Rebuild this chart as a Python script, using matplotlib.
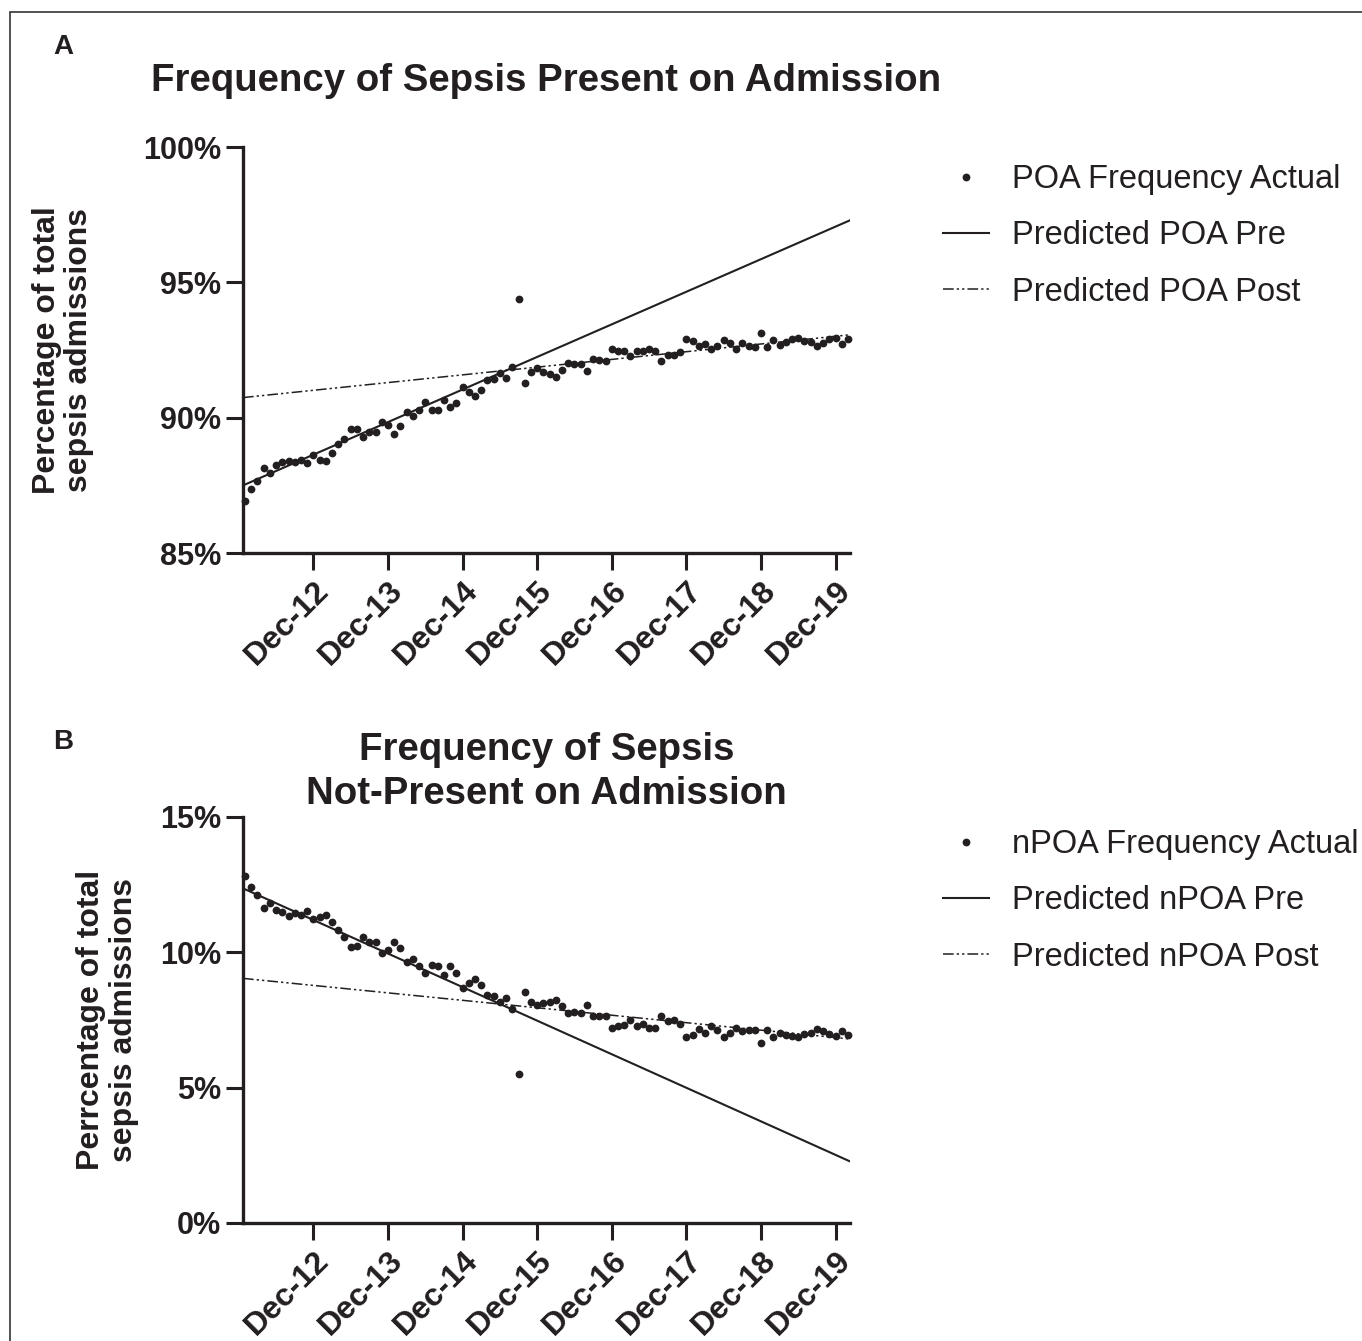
import numpy as np
import matplotlib
matplotlib.use("Agg")
import matplotlib.pyplot as plt
from matplotlib.patches import Rectangle
from matplotlib.lines import Line2D

# monthly series, Jan-2012 .. Feb-2020 (98 months)
poa_pct = [
    86.91, 87.37, 87.67, 88.13, 87.97, 88.24, 88.35, 88.41, 88.35, 88.42, 88.33, 88.62,
    88.45, 88.40, 88.70, 89.03, 89.22, 89.59, 89.58, 89.29, 89.46, 89.46, 89.83, 89.73,
    89.41, 89.68, 90.20, 90.07, 90.30, 90.58, 90.27, 90.27, 90.64, 90.38, 90.56, 91.13,
    90.95, 90.79, 91.01, 91.40, 91.43, 91.65, 91.46, 91.89, 94.38, 91.28, 91.69, 91.83,
    91.70, 91.61, 91.52, 91.76, 92.02, 91.99, 91.97, 91.71, 92.17, 92.12, 92.08, 92.55,
    92.45, 92.47, 92.29, 92.45, 92.48, 92.53, 92.48, 92.10, 92.32, 92.32, 92.41, 92.92,
    92.85, 92.63, 92.72, 92.53, 92.66, 92.88, 92.76, 92.53, 92.76, 92.63, 92.60, 93.12,
    92.61, 92.88, 92.69, 92.80, 92.90, 92.93, 92.85, 92.80, 92.63, 92.76, 92.90, 92.96,
    92.73, 92.90,
]
npoa_pct = [
    12.81, 12.41, 12.13, 11.65, 11.83, 11.58, 11.49, 11.36, 11.46, 11.39, 11.51, 11.22,
    11.30, 11.39, 11.12, 10.81, 10.58, 10.21, 10.25, 10.56, 10.37, 10.37, 9.98, 10.09,
    10.37, 10.15, 9.63, 9.74, 9.50, 9.24, 9.53, 9.51, 9.16, 9.48, 9.25, 8.69,
    8.87, 9.03, 8.79, 8.43, 8.40, 8.15, 8.32, 7.90, 5.49, 8.54, 8.17, 8.05,
    8.11, 8.17, 8.25, 8.02, 7.75, 7.78, 7.75, 8.05, 7.63, 7.63, 7.63, 7.22,
    7.28, 7.31, 7.50, 7.26, 7.34, 7.20, 7.22, 7.65, 7.47, 7.49, 7.34, 6.87,
    6.94, 7.16, 7.03, 7.28, 7.13, 6.87, 7.01, 7.22, 7.10, 7.13, 7.13, 6.66,
    7.13, 6.89, 7.03, 6.95, 6.91, 6.87, 6.97, 7.01, 7.18, 7.10, 7.00, 6.91,
    7.10, 6.95,
]

# fitted segments: value at month 0 and change per month
poa_pre = (87.53, 0.1003)
poa_post = (90.75, 0.02376)
npoa_pre = (12.33, -0.1033)
npoa_post = (9.03, -0.02294)

tick_months = [11, 23, 35, 47, 59, 71, 83, 95]
tick_labels = ["Dec-12", "Dec-13", "Dec-14", "Dec-15", "Dec-16", "Dec-17", "Dec-18", "Dec-19"]

INK = "#231F20"
W, H = 1362, 1341
plt.rcParams["font.family"] = ["Liberation Sans", "DejaVu Sans"]

fig = plt.figure(figsize=(W / 100, H / 100), dpi=100)


def fx(px):
    return px / W


def fy(py):
    return 1 - py / H


# outer frame (cropped at right / bottom)
fig.patches.append(Rectangle((fx(10), fy(H + 20)), 1.2, fy(12) - fy(H + 20),
                             transform=fig.transFigure, fill=False,
                             edgecolor="#333333", linewidth=1.2))

months = np.arange(len(poa_pct))
xlim = (-0.33, 97.33)
dash_post = (0, (7, 2, 1.5, 2, 1.5, 2))
MS = 5.6


def panel(top_px, y_vals, ylim, yticks, pre, post, title, title_pad, ylabel, ylabel_x,
          names, leg_top):
    ax = fig.add_axes([fx(243), fy(top_px + 406), fx(850) - fx(243), fy(top_px) - fy(top_px + 406)])
    xs = np.array(xlim)
    ax.plot(xs, pre[0] + pre[1] * xs, color=INK, lw=1.5)
    ax.plot(xs, post[0] + post[1] * xs, color=INK, lw=1.1, linestyle=dash_post)
    ax.plot(months, y_vals, "o", color=INK, ms=MS, mew=0, clip_on=False, zorder=3)
    ax.set_xlim(*xlim)
    ax.set_ylim(*ylim)
    ax.set_xticks(tick_months)
    ax.set_xticklabels(tick_labels, rotation=45, ha="right", rotation_mode="anchor",
                       fontsize=23, fontweight="bold", color=INK)
    ax.set_yticks(yticks)
    ax.set_yticklabels([f"{v}%" for v in yticks], fontsize=22, fontweight="bold", color=INK)
    ax.tick_params(direction="out", length=12, width=2.2, color=INK, pad=4)
    for s in ["top", "right"]:
        ax.spines[s].set_visible(False)
    for s in ["left", "bottom"]:
        ax.spines[s].set_linewidth(2.4)
        ax.spines[s].set_color(INK)
    ax.set_title(title, fontsize=27.6, fontweight="bold", color=INK, pad=title_pad, linespacing=1.3)
    ax.set_ylabel(ylabel, fontsize=23, fontweight="bold", color=INK, linespacing=1.12)
    ax.yaxis.set_label_coords(ylabel_x, 0.5)

    handles = [
        Line2D([], [], marker="o", linestyle="none", color=INK, ms=MS, mew=0),
        Line2D([], [], color=INK, lw=1.5),
        Line2D([], [], color=INK, lw=1.1, linestyle=dash_post),
    ]
    fig.legend(handles, names, loc="upper left", bbox_to_anchor=(fx(943), fy(leg_top)),
               frameon=False, fontsize=23.5, handlelength=1.4, handletextpad=0.72,
               labelspacing=0.78, borderpad=0, borderaxespad=0, labelcolor=INK)
    return ax


panel(147, poa_pct, (85, 100), [85, 90, 95, 100], poa_pre, poa_post,
      "Frequency of Sepsis Present on Admission", 40,
      "Percentage of total\nsepsis admissions", -0.245,
      ["POA Frequency Actual", "Predicted POA Pre", "Predicted POA Post"], 164)

panel(817, npoa_pct, (0, 15), [0, 5, 10, 15], npoa_pre, npoa_post,
      "Frequency of Sepsis\nNot-Present on Admission", 9,
      "Perrcentage of total\nsepsis admissions", -0.172,
      ["nPOA Frequency Actual", "Predicted nPOA Pre", "Predicted nPOA Post"], 829)

fig.text(fx(53), fy(47), "A", fontsize=20, fontweight="bold", color=INK, va="center")
fig.text(fx(53), fy(742), "B", fontsize=20, fontweight="bold", color=INK, va="center")

fig.savefig("out.png", dpi=100)
